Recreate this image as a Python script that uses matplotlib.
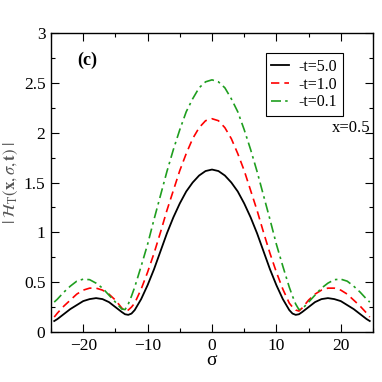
import matplotlib
matplotlib.use("Agg")
import matplotlib.pyplot as plt
from matplotlib.ticker import MultipleLocator

plt.rcParams['font.family'] = ['Liberation Serif', 'DejaVu Serif']
plt.rcParams['mathtext.fontset'] = 'stix'

sigma = [-24.5, -24, -23, -22, -21, -20, -19, -18, -17, -16, -15, -14, -13.5, -13, -12.5,
         -12, -11, -10, -9, -8, -7, -6, -5, -4, -3, -2, -1, 0,
         1, 2, 3, 4, 5, 6, 7, 8, 9, 10, 11, 12, 12.5, 13, 13.5, 14,
         15, 16, 17, 18, 19, 20, 21, 22, 23, 24, 24.5]

h_t50 = [0.11, 0.13, 0.18, 0.23, 0.27, 0.31, 0.33, 0.34, 0.33, 0.30, 0.25, 0.20, 0.178, 0.172, 0.185,
         0.22, 0.33, 0.47, 0.63, 0.81, 0.99, 1.15, 1.29, 1.41, 1.50, 1.57, 1.615, 1.63,
         1.615, 1.57, 1.50, 1.41, 1.29, 1.15, 0.99, 0.81, 0.63, 0.47, 0.33, 0.22, 0.185, 0.172, 0.178, 0.20,
         0.25, 0.30, 0.33, 0.34, 0.33, 0.31, 0.27, 0.23, 0.18, 0.13, 0.11]

h_t10 = [0.15, 0.19, 0.26, 0.32, 0.38, 0.42, 0.44, 0.44, 0.42, 0.38, 0.32, 0.24, 0.21, 0.22, 0.25,
         0.29, 0.43, 0.60, 0.79, 1.00, 1.22, 1.42, 1.62, 1.79, 1.94, 2.05, 2.12, 2.14,
         2.12, 2.05, 1.94, 1.79, 1.62, 1.42, 1.22, 1.00, 0.79, 0.60, 0.43, 0.29, 0.25, 0.22, 0.21, 0.24,
         0.32, 0.38, 0.42, 0.44, 0.44, 0.42, 0.38, 0.32, 0.26, 0.19, 0.15]

h_t01 = [0.30, 0.33, 0.40, 0.46, 0.51, 0.53, 0.525, 0.49, 0.44, 0.37, 0.30, 0.23, 0.225, 0.28, 0.36,
         0.45, 0.66, 0.88, 1.13, 1.37, 1.61, 1.83, 2.03, 2.21, 2.34, 2.45, 2.51, 2.53,
         2.51, 2.45, 2.34, 2.21, 2.03, 1.83, 1.61, 1.37, 1.13, 0.88, 0.66, 0.45, 0.36, 0.28, 0.225, 0.23,
         0.30, 0.37, 0.44, 0.49, 0.525, 0.53, 0.51, 0.46, 0.40, 0.33, 0.30]

labels = ['-t=5.0', '-t=1.0', '-t=0.1']

fig = plt.figure(figsize=(3.82, 3.82), dpi=100)
ax = fig.add_axes([0.1335, 0.1309, 0.8429, 0.7827])

ax.plot(sigma, h_t50, color='black', lw=1.3, label=labels[0])
ax.plot(sigma, h_t10, color='#ff0000', lw=1.2, dashes=(5, 3), label=labels[1])
ax.plot(sigma, h_t01, color='#1f9e1f', lw=1.2, dashes=(6, 2.5, 1.5, 2.5), label=labels[2])

ax.set_xlim(-25, 25)
ax.set_ylim(0, 3)
ax.xaxis.set_major_locator(MultipleLocator(10))
ax.xaxis.set_minor_locator(MultipleLocator(5))
ax.yaxis.set_major_locator(MultipleLocator(0.5))
ax.yaxis.set_minor_locator(MultipleLocator(0.25))
ax.set_yticks([0, 0.5, 1, 1.5, 2, 2.5, 3])
ax.set_yticklabels(['0', '0.5', '1', '1.5', '2', '2.5', '3'])
ax.tick_params(which='both', direction='in', top=True, right=True, labelsize=12.5, pad=4)
ax.tick_params(which='major', length=6, width=0.8)
ax.tick_params(which='minor', length=3, width=0.8)
for s in ax.spines.values():
    s.set_linewidth(1.0)

ax.set_xlabel('σ', fontsize=14, labelpad=-1)
ax.set_ylabel(r'$|\;\mathcal{H}_{\mathrm{T}}(\mathbf{x},\sigma,\mathbf{t})\;|$', fontsize=12,
              color='#555555', labelpad=3)

ax.text(-19.4, 2.73, '(c)', fontsize=13, fontweight='bold', ha='center', va='center')
ax.text(21.6, 2.05, 'x=0.5', fontsize=12, ha='center', va='center')

leg = ax.legend(loc='upper right', bbox_to_anchor=(0.906, 0.932), fontsize=11.5, frameon=True,
                fancybox=False, edgecolor='black', framealpha=1, handlelength=1.1,
                handletextpad=0.6, borderpad=0.35, labelspacing=0.1, borderaxespad=0)
leg.get_frame().set_linewidth(0.8)

fig.savefig('out.png', dpi=100)
